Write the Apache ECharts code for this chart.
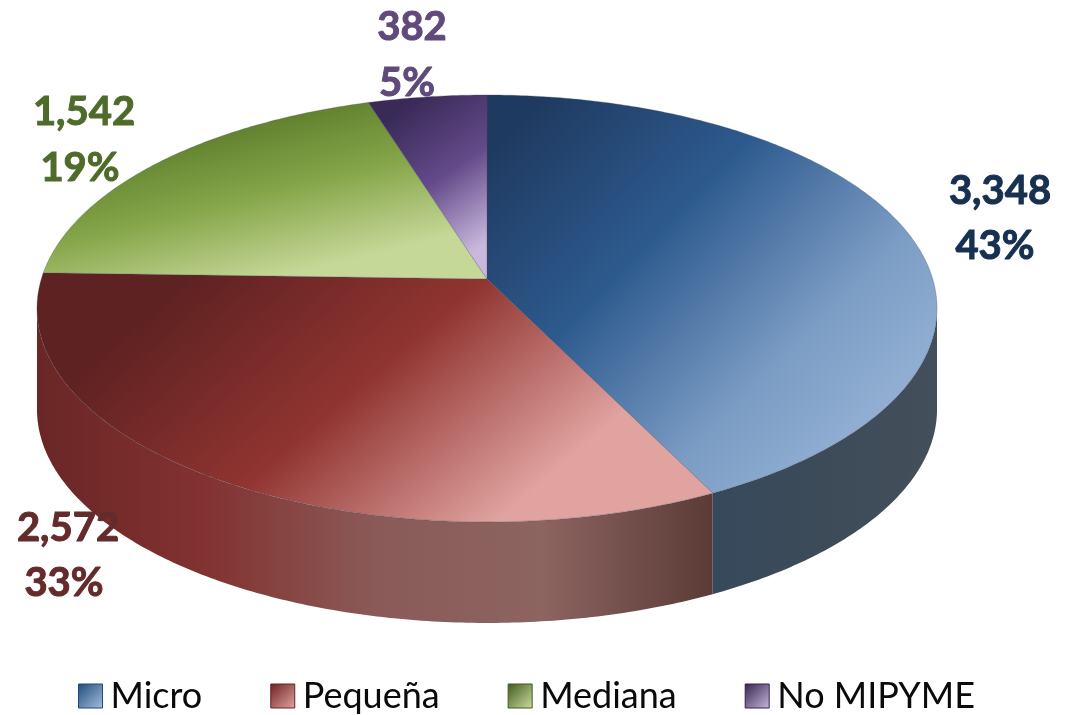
<!DOCTYPE html>
<html>
<head>
<meta charset="utf-8">
<style>
	html, body { margin: 0; padding: 0; background: #fff; }
	#chart { width: 1067px; height: 715px; }
</style>
</head>
<body>
<div id="chart"></div>
<script src="https://cdn.jsdelivr.net/npm/echarts@6/dist/echarts.min.js"></script>
<script>
const categories = ["Micro", "Pequeña", "Mediana", "No MIPYME"];
const values = [3348, 2572, 1542, 382];
const valueLabels = ["3,348", "2,572", "1,542", "382"];
const percentLabels = ["43%", "33%", "19%", "5%"];

// tilted disc: a circle seen through a perspective, fitted on the picture
const cx = 487, cy = 279;
const sx = 445.7, sy = 209.4, persp = -0.138;
const depth = 101;
const edgeAngle = Math.acos(persp);

function project(angle) {
	const u = Math.sin(angle), v = -Math.cos(angle);
	const w = 1 + persp * v;
	return [cx + sx * u / w, cy + sy * v / w];
}

function arc(from, to) {
	const pts = [];
	const steps = Math.max(2, Math.ceil((to - from) * 90));
	for (let i = 0; i <= steps; i++) {
		pts.push(project(from + (to - from) * i / steps));
	}
	return pts;
}

function gradient(x0, y0, x1, y1, colors) {
	const stops = colors.map(function (c, i) {
		return {offset: i / (colors.length - 1), color: c};
	});
	return new echarts.graphic.LinearGradient(x0, y0, x1, y1, stops, true);
}

const topColors = [
	["#1f3a60", "#2d5a8e", "#7b9cc4", "#a0bbdc"],
	["#5f2222", "#903430", "#e0a3a0"],
	["#5a7a2a", "#86a64a", "#c6d898"],
	["#3a2a58", "#644a8a", "#c9b8dc"]
];
const topBoxes = [
	[530, 110, 910, 480],
	[190, 280, 440, 570],
	[230, 115, 270, 280],
	[400, 110, 490, 240]
];
const wallColors = [
	["#36495c", "#3d4b59", "#434f5a"],
	["#6a2626", "#823230", "#8a5a58", "#8c6460", "#5c3c38"],
	["#4c6a24", "#4c6a24"],
	["#3a2a58", "#3a2a58"]
];
const wallBoxes = [
	[709, 0, 938, 0],
	[38, 0, 709, 0],
	[0, 0, 1, 0],
	[0, 0, 1, 0]
];
const labelColors = ["#17304f", "#632b2b", "#4f6b2a", "#5f4a7b"];
const labelSpots = [
	[1000, 191, 995, 246],
	[68, 528, 64, 583],
	[84, 112, 80, 168],
	[412, 27, 407, 83]
];
const legendColors = [
	["#1f4a7c", "#a7c0de"],
	["#6e2020", "#e0a5a2"],
	["#3f5a1c", "#cfdda3"],
	["#33234f", "#c9b8dc"]
];

const total = values.reduce(function (a, b) { return a + b; }, 0);

function sliceRange(index) {
	let before = 0;
	for (let i = 0; i < index; i++) {
		before += values[i];
	}
	return [before / total * Math.PI * 2, (before + values[index]) / total * Math.PI * 2];
}

function renderSlice(params, api) {
	const i = params.seriesIndex;
	const range = sliceRange(i);
	const children = [];

	// only the front of the rim is seen
	const wallFrom = Math.max(range[0], edgeAngle);
	const wallTo = Math.min(range[1], Math.PI * 2 - edgeAngle);
	if (wallFrom < wallTo) {
		const rim = arc(wallFrom, wallTo);
		const lower = rim.map(function (p) { return [p[0], p[1] + depth]; }).reverse();
		const b = wallBoxes[i];
		children.push({
			type: "polygon",
			shape: {points: rim.concat(lower)},
			style: {fill: gradient(b[0], b[1], b[2], b[3], wallColors[i])}
		});
	}

	const t = topBoxes[i];
	children.push({
		type: "polygon",
		shape: {points: [[cx, cy]].concat(arc(range[0], range[1]))},
		style: {
			fill: gradient(t[0], t[1], t[2], t[3], topColors[i]),
			stroke: "rgba(70,70,90,0.3)",
			lineWidth: 1
		}
	});
	return {type: "group", children: children};
}

function labelText(x, y, text, color) {
	return {
		type: "text",
		style: {
			x: x, y: y, text: text,
			font: "bold 40px Lato",
			fill: color,
			stroke: color,
			lineWidth: 1,
			align: "center",
			verticalAlign: "middle"
		}
	};
}

function renderLabel(params, api) {
	const i = params.dataIndex;
	const s = labelSpots[i];
	return {
		type: "group",
		children: [
			labelText(s[0], s[1], valueLabels[i], labelColors[i]),
			labelText(s[2], s[3], percentLabels[i], labelColors[i])
		]
	};
}

const series = categories.map(function (name, i) {
	return {
		name: name,
		type: "custom",
		coordinateSystem: "none",
		silent: true,
		animation: false,
		itemStyle: {color: legendColors[i][0]},
		renderItem: renderSlice,
		data: [[values[i]]]
	};
});
series.push({
	type: "custom",
	coordinateSystem: "none",
	silent: true,
	animation: false,
	z: 5,
	renderItem: renderLabel,
	data: values.map(function (v) { return [v]; })
});

const myChart = echarts.init(document.getElementById("chart"), null, {renderer: "canvas"});
myChart.setOption({
	backgroundColor: "#ffffff",
	animation: false,
	legend: {
		left: 78,
		top: 678,
		padding: 0,
		itemGap: 68,
		itemWidth: 24,
		itemHeight: 24,
		icon: "rect",
		selectedMode: false,
		textStyle: {fontFamily: "Lato", fontSize: 36, color: "#0a0a0a", padding: [0, 0, 0, 3]},
		data: categories.map(function (name, i) {
			return {
				name: name,
				itemStyle: {
					color: new echarts.graphic.LinearGradient(0, 0, 1, 1, [
						{offset: 0, color: legendColors[i][0]},
						{offset: 1, color: legendColors[i][1]}
					]),
					borderColor: legendColors[i][0],
					borderWidth: 1
				}
			};
		})
	},
	series: series
});
</script>
</body>
</html>
